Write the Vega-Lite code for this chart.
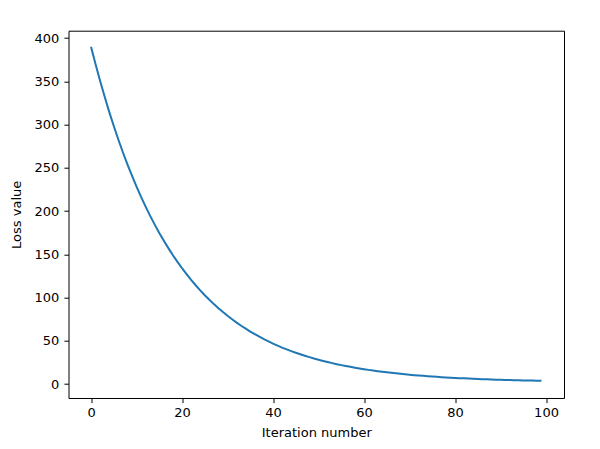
{
  "$schema": "https://vega.github.io/schema/vega-lite/v6.json",
  "autosize": "none",
  "width": 495.5,
  "height": 367.3,
  "padding": {"left": 68.5, "top": 30.7, "right": 36, "bottom": 51},
  "background": "white",
  "config": {
    "view": {"stroke": "black", "strokeWidth": 1},
    "font": "DejaVu Sans",
    "axis": {
      "domain": false,
      "grid": false,
      "tickColor": "black",
      "tickSize": 4.6,
      "tickWidth": 1,
      "labelFont": "DejaVu Sans",
      "labelFontSize": 13,
      "labelColor": "black",
      "labelPadding": 4,
      "titleFont": "DejaVu Sans",
      "titleFontSize": 13,
      "titleFontWeight": "normal",
      "titleColor": "black"
    }
  },
  "data": {"values": [
    {"iteration": 0, "loss": 390.0}, {"iteration": 1, "loss": 369.6}, {"iteration": 2, "loss": 350.3}, {"iteration": 3, "loss": 332.1}, {"iteration": 4, "loss": 314.7},
    {"iteration": 5, "loss": 298.3}, {"iteration": 6, "loss": 282.8}, {"iteration": 7, "loss": 268.0}, {"iteration": 8, "loss": 254.1}, {"iteration": 9, "loss": 240.9},
    {"iteration": 10, "loss": 228.3}, {"iteration": 11, "loss": 216.4}, {"iteration": 12, "loss": 205.2}, {"iteration": 13, "loss": 194.5}, {"iteration": 14, "loss": 184.4},
    {"iteration": 15, "loss": 174.8}, {"iteration": 16, "loss": 165.8}, {"iteration": 17, "loss": 157.2}, {"iteration": 18, "loss": 149.0}, {"iteration": 19, "loss": 141.3},
    {"iteration": 20, "loss": 134.0}, {"iteration": 21, "loss": 127.1}, {"iteration": 22, "loss": 120.5}, {"iteration": 23, "loss": 114.3}, {"iteration": 24, "loss": 108.4},
    {"iteration": 25, "loss": 102.8}, {"iteration": 26, "loss": 97.5}, {"iteration": 27, "loss": 92.5}, {"iteration": 28, "loss": 87.8}, {"iteration": 29, "loss": 83.3},
    {"iteration": 30, "loss": 79.0}, {"iteration": 31, "loss": 75.0}, {"iteration": 32, "loss": 71.1}, {"iteration": 33, "loss": 67.5}, {"iteration": 34, "loss": 64.1},
    {"iteration": 35, "loss": 60.8}, {"iteration": 36, "loss": 57.7}, {"iteration": 37, "loss": 54.8}, {"iteration": 38, "loss": 52.0}, {"iteration": 39, "loss": 49.4},
    {"iteration": 40, "loss": 46.9}, {"iteration": 41, "loss": 44.6}, {"iteration": 42, "loss": 42.3}, {"iteration": 43, "loss": 40.2}, {"iteration": 44, "loss": 38.2},
    {"iteration": 45, "loss": 36.3}, {"iteration": 46, "loss": 34.5}, {"iteration": 47, "loss": 32.8}, {"iteration": 48, "loss": 31.2}, {"iteration": 49, "loss": 29.6},
    {"iteration": 50, "loss": 28.2}, {"iteration": 51, "loss": 26.8}, {"iteration": 52, "loss": 25.5}, {"iteration": 53, "loss": 24.3}, {"iteration": 54, "loss": 23.1},
    {"iteration": 55, "loss": 22.0}, {"iteration": 56, "loss": 21.0}, {"iteration": 57, "loss": 20.0}, {"iteration": 58, "loss": 19.0}, {"iteration": 59, "loss": 18.1},
    {"iteration": 60, "loss": 17.3}, {"iteration": 61, "loss": 16.5}, {"iteration": 62, "loss": 15.7}, {"iteration": 63, "loss": 15.0}, {"iteration": 64, "loss": 14.3},
    {"iteration": 65, "loss": 13.7}, {"iteration": 66, "loss": 13.1}, {"iteration": 67, "loss": 12.5}, {"iteration": 68, "loss": 11.9}, {"iteration": 69, "loss": 11.4},
    {"iteration": 70, "loss": 10.9}, {"iteration": 71, "loss": 10.4}, {"iteration": 72, "loss": 10.0}, {"iteration": 73, "loss": 9.6}, {"iteration": 74, "loss": 9.2},
    {"iteration": 75, "loss": 8.8}, {"iteration": 76, "loss": 8.5}, {"iteration": 77, "loss": 8.1}, {"iteration": 78, "loss": 7.8}, {"iteration": 79, "loss": 7.5},
    {"iteration": 80, "loss": 7.2}, {"iteration": 81, "loss": 6.9}, {"iteration": 82, "loss": 6.7}, {"iteration": 83, "loss": 6.4}, {"iteration": 84, "loss": 6.2},
    {"iteration": 85, "loss": 6.0}, {"iteration": 86, "loss": 5.8}, {"iteration": 87, "loss": 5.6}, {"iteration": 88, "loss": 5.4}, {"iteration": 89, "loss": 5.2},
    {"iteration": 90, "loss": 5.0}, {"iteration": 91, "loss": 4.9}, {"iteration": 92, "loss": 4.7}, {"iteration": 93, "loss": 4.6}, {"iteration": 94, "loss": 4.4},
    {"iteration": 95, "loss": 4.3}, {"iteration": 96, "loss": 4.2}, {"iteration": 97, "loss": 4.1}, {"iteration": 98, "loss": 4.0}, {"iteration": 99, "loss": 3.9}
  ]},
  "mark": {"type": "line", "color": "#1f77b4", "strokeWidth": 2},
  "encoding": {
    "x": {
      "field": "iteration", "type": "quantitative",
      "scale": {"domain": [-4.95, 103.95], "nice": false, "zero": false},
      "axis": {"title": "Iteration number", "values": [0, 20, 40, 60, 80, 100], "titlePadding": 7}
    },
    "y": {
      "field": "loss", "type": "quantitative",
      "scale": {"domain": [-16, 408.5], "nice": false, "zero": false},
      "axis": {"title": "Loss value", "values": [0, 50, 100, 150, 200, 250, 300, 350, 400], "labelPadding": 5, "titlePadding": 10.5}
    }
  }
}
